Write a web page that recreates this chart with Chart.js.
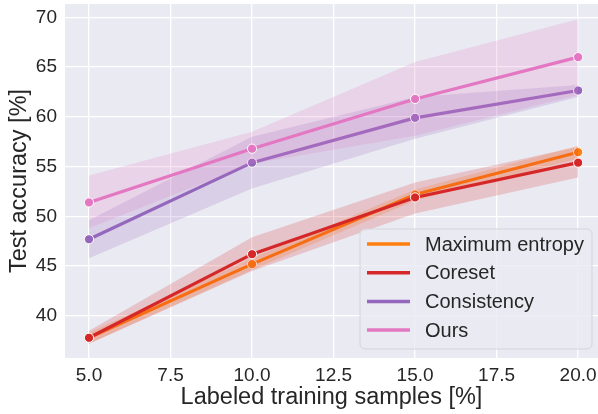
<!DOCTYPE html>
<html>
<head>
<meta charset="utf-8">
<script src="https://cdn.jsdelivr.net/npm/chart.js@4"></script>
<style>
  html, body { margin: 0; padding: 0; background: #ffffff; }
  #wrap { width: 598px; height: 414px; }
</style>
</head>
<body>
<div id="wrap"><canvas id="c" width="598" height="414"></canvas></div>
<script>
// ---- data ----
const xValues = [5, 10, 15, 20];

const maxEntropy      = [37.8, 45.2, 52.2, 56.45];
const maxEntropyLower = [37.2, 44.6, 51.6, 55.8];
const maxEntropyUpper = [38.3, 45.8, 52.7, 57.1];

const coreset      = [37.8, 46.2, 51.9, 55.4];
const coresetLower = [37.2, 44.5, 50.3, 53.9];
const coresetUpper = [38.5, 47.9, 53.4, 57.0];

const consistency      = [47.7, 55.4, 59.9, 62.65];
const consistencyLower = [45.8, 52.8, 57.8, 62.0];
const consistencyUpper = [49.6, 58.0, 62.0, 63.2];

const ours      = [51.4, 56.8, 61.8, 66.0];
const oursLower = [48.8, 55.3, 58.1, 62.2];
const oursUpper = [54.1, 58.5, 65.5, 69.8];

const seriesNames = ['Maximum entropy', 'Coreset', 'Consistency', 'Ours'];
const xTicks = [5, 7.5, 10, 12.5, 15, 17.5, 20];
const yTicks = [40, 45, 50, 55, 60, 65, 70];
const xTitle = 'Labeled training samples [%]';
const yTitle = 'Test accuracy [%]';

// ---- styling ----
const colors = ['#ff7f0e', '#d62728', '#9467bd', '#e377c2'];
const bandColors = ['rgba(255,127,14,0.2)', 'rgba(214,39,40,0.2)', 'rgba(148,103,189,0.2)', 'rgba(227,119,194,0.2)'];
const textColor = '#262626';
const FONT = "'Liberation Sans', Arial, sans-serif";

const pts = arr => arr.map((v, i) => ({ x: xValues[i], y: v }));

const series = [
  { mean: maxEntropy, lo: maxEntropyLower, hi: maxEntropyUpper },
  { mean: coreset, lo: coresetLower, hi: coresetUpper },
  { mean: consistency, lo: consistencyLower, hi: consistencyUpper },
  { mean: ours, lo: oursLower, hi: oursUpper },
];

const datasets = [];
let seq = 0;
series.forEach((s, i) => {
  datasets.push({
    label: seriesNames[i] + ' lower', data: pts(s.lo),
    borderWidth: 0, pointRadius: 0, fill: false, showLine: true,
    borderColor: 'rgba(0,0,0,0)', order: 100 - (seq++)
  });
  datasets.push({
    label: seriesNames[i] + ' upper', data: pts(s.hi),
    borderWidth: 0, pointRadius: 0, fill: '-1', showLine: true,
    borderColor: 'rgba(0,0,0,0)', backgroundColor: bandColors[i], order: 100 - (seq++)
  });
  datasets.push({
    label: seriesNames[i], data: pts(s.mean),
    borderColor: colors[i], backgroundColor: colors[i], borderWidth: 3.2,
    pointRadius: 4.6, pointBorderColor: '#ffffff', pointBorderWidth: 1,
    pointBackgroundColor: colors[i], fill: false, showLine: true, tension: 0,
    order: 100 - (seq++)
  });
});

const bgPlugin = {
  id: 'axesBg',
  beforeDraw(chart) {
    const { ctx, chartArea: a } = chart;
    ctx.save();
    ctx.fillStyle = '#ffffff';
    ctx.fillRect(0, 0, chart.width, chart.height);
    ctx.fillStyle = '#eaeaf2';
    ctx.fillRect(a.left, a.top, a.right - a.left, a.bottom - a.top);
    ctx.restore();
  }
};

const legendPlugin = {
  id: 'customLegend',
  afterDraw(chart) {
    const { ctx } = chart;
    const x0 = 360, y0 = 229, w = 232, h = 120, r = 5;
    ctx.save();
    ctx.beginPath();
    ctx.moveTo(x0 + r, y0);
    ctx.arcTo(x0 + w, y0, x0 + w, y0 + h, r);
    ctx.arcTo(x0 + w, y0 + h, x0, y0 + h, r);
    ctx.arcTo(x0, y0 + h, x0, y0, r);
    ctx.arcTo(x0, y0, x0 + w, y0, r);
    ctx.closePath();
    ctx.fillStyle = 'rgba(234,234,242,0.8)';
    ctx.fill();
    ctx.strokeStyle = '#d4d4dc';
    ctx.lineWidth = 1;
    ctx.stroke();
    ctx.font = '20px ' + FONT;
    ctx.textBaseline = 'middle';
    ctx.fillStyle = textColor;
    seriesNames.forEach((name, i) => {
      const yy = 244 + i * 28.7;
      ctx.strokeStyle = colors[i];
      ctx.lineWidth = 3.5;
      ctx.beginPath();
      ctx.moveTo(367, yy);
      ctx.lineTo(410, yy);
      ctx.stroke();
      ctx.fillStyle = textColor;
      ctx.fillText(name, 425, yy + 1);
    });
    ctx.restore();
  }
};

new Chart(document.getElementById('c'), {
  type: 'line',
  data: { datasets },
  plugins: [bgPlugin, legendPlugin],
  options: {
    responsive: false,
    animation: false,
    devicePixelRatio: 1,
    layout: { autoPadding: false, padding: { top: 4, right: 0, left: 0, bottom: 0 } },
    plugins: {
      legend: { display: false },
      tooltip: { enabled: false },
      filler: { propagate: false }
    },
    scales: {
      x: {
        type: 'linear',
        min: 4.264,
        max: 20.61,
        afterFit(scale) {
          scale.height = 56;
          scale.paddingLeft = 0; scale.paddingRight = 0;
          scale.paddingTop = 0; scale.paddingBottom = 0;
        },
        afterBuildTicks(scale) { scale.ticks = xTicks.map(v => ({ value: v })); },
        grid: { color: '#ffffff', lineWidth: 1.3, drawTicks: false },
        border: { display: false },
        ticks: {
          padding: 6,
          color: textColor,
          font: { family: FONT, size: 19 },
          callback: v => v.toFixed(1),
          maxRotation: 0
        },
        title: {
          display: true, text: xTitle, color: textColor,
          font: { family: FONT, size: 23.5, lineHeight: 1.2 },
          padding: { top: 0, bottom: 2 }
        }
      },
      y: {
        type: 'linear',
        min: 35.77,
        max: 71.34,
        afterFit(scale) {
          scale.width = 65;
          scale.paddingLeft = 0; scale.paddingRight = 0;
          scale.paddingTop = 0; scale.paddingBottom = 0;
        },
        afterBuildTicks(scale) { scale.ticks = yTicks.map(v => ({ value: v })); },
        grid: { color: '#ffffff', lineWidth: 1.3, drawTicks: false },
        border: { display: false },
        ticks: {
          padding: 8,
          color: textColor,
          font: { family: FONT, size: 19 },
          callback: v => String(v)
        },
        title: {
          display: true, text: yTitle, color: textColor,
          font: { family: FONT, size: 23.5, lineHeight: 1.2 },
          padding: { top: 5, bottom: 0 }
        }
      }
    }
  }
});
</script>
</body>
</html>
